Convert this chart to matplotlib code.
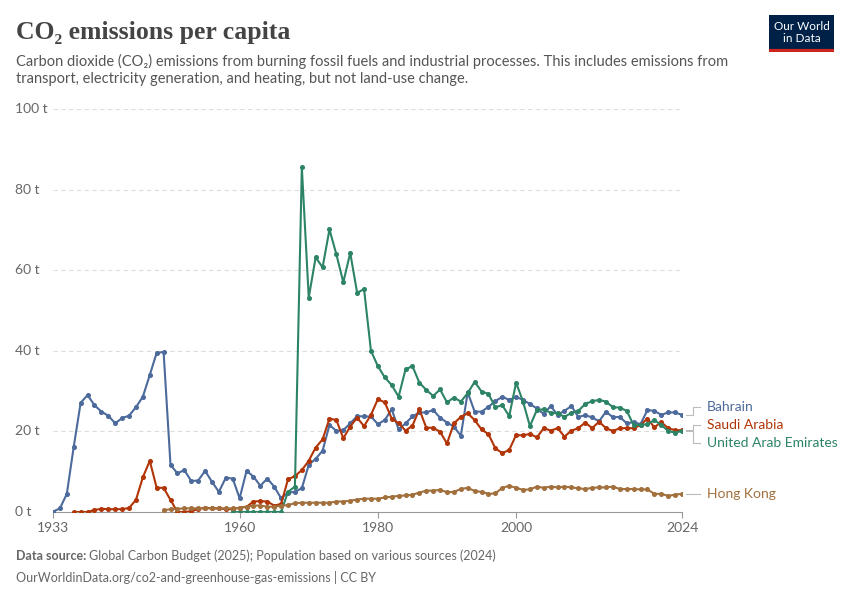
import matplotlib.pyplot as plt
import numpy as np

plt.rcParams['font.family'] = ['Lato', 'DejaVu Sans']

years_bh = np.arange(1933, 2025)
bahrain = [0.1, 0.9, 4.5, 16.2, 27.1, 29, 26.5, 24.9, 23.9, 22, 23.3, 23.9, 26, 28.6, 34, 39.5, 39.7,
           11.7, 9.6, 10.4, 7.7, 7.8, 10.2, 7.5, 5, 8.5, 8.3, 3.4, 10.2, 8.8, 6.5, 8.3, 6.3, 3.4,
           4.8, 5.0, 5.9, 11.7, 13.2, 15.2, 21.6, 20.1, 20.3, 22, 23.8, 23.7, 23.7, 21.8, 22.8, 25.5,
           20.5, 22, 23.7, 24.7, 24.7, 25.3, 23.4, 22.2, 21.2,
           18.9, 29.7, 24.9, 24.9, 26.1, 27.5, 28.6, 27.8, 28.6, 27.8, 26.8, 25.7, 24.3, 26.3, 24.1,
           25.1, 26.3, 23.6, 24, 23.5, 22.5, 24.9, 23.5, 23.6, 22, 22.3, 21.8, 25.3, 25.1, 24.1,
           24.7, 24.7, 24.1]

years_sa = np.arange(1936, 2025)
saudi = [0, 0, 0, 0.5, 0.8, 0.7, 0.7, 0.7, 1, 3, 8.6, 12.7, 6, 6, 3, 0, 0, 0.2, 0.7, 1.1, 0.9,
         0.9, 0.7, 0.7, 1.1, 1.3, 2.6, 2.7, 2.6, 1.6, 2,
         8.1, 8.9, 10.4, 12.7, 16.0, 18, 23.2, 22.8, 18.3, 21.2, 23.4, 21.3, 24.1, 28, 27.2, 23.2,
         22, 20.2, 21.4, 25.5, 20.9, 20.9, 19.9, 17, 22,
         23.6, 24.5, 22.8, 20.5, 19.3, 15.8, 14.6, 15.4, 19.1, 19.0, 19.4, 18.5, 20.8, 20.2, 20.8,
         18.7, 20.2, 20.8, 22.2, 20.8, 22.4, 20.8, 20.1, 20.8, 20.8, 20.8, 21.6, 23.2, 21, 22.3,
         20.8, 20.3, 20.3]

years_ae = np.arange(1959, 2025)
uae = [0, 0, 0, 0, 0, 0, 0, 0, 5.0, 6.3, 85.5,
       53.2, 63.2, 60.7, 70.1, 63.9, 57, 64.3, 54.4, 55.3, 40, 36.2, 33.4, 31.5, 28.6, 35.4, 36.2,
       32.1, 30.3, 28.8, 30.4, 27.2, 28.4,
       27.4, 29.5, 32.3, 29.9, 29.3, 26, 26.5, 23.8, 32.1, 27.4, 21.3, 25.3, 25.5, 24.6, 24.5,
       23.6, 24.6, 25.1, 26.8, 27.5, 27.8, 27.4, 26, 25.9, 25.1, 21.6, 21.6, 21.8, 22.8, 21.6,
       20.1, 19.7, 20.1]

years_hk = np.arange(1949, 2025)
hongkong = [0.4, 0.7, 0.8, 0.9, 0.9, 0.9, 0.9, 0.9, 0.9, 0.9, 0.9, 1.0, 1.3, 1.6, 1.6, 1.3, 1.3, 1.6,
            1.7, 2.2, 2.3, 2.3, 2.3, 2.3, 2.3, 2.6, 2.6, 2.8, 3.1, 3.3, 3.3, 3.3, 3.6, 3.8, 4.0,
            4.1, 4.3, 4.8, 5.3, 5.3, 5.5, 4.9, 5.0,
            5.7, 6.0, 5.2, 5.0, 4.5, 4.6, 6.0, 6.5, 6.0, 5.5, 5.6, 6.3, 6.0, 6.3, 6.1, 6.3, 6.1,
            5.9, 5.7, 6.0, 6.1, 6.1, 6.3, 5.7, 5.7, 5.7, 5.6, 5.6, 4.5, 4.5, 4.0, 4.3, 4.5]

series = [
    ("Bahrain", years_bh, bahrain, "#4c6a9c", 407),
    ("Saudi Arabia", years_sa, saudi, "#b13507", 425),
    ("United Arab Emirates", years_ae, uae, "#2c8465", 443),
    ("Hong Kong", years_hk, hongkong, "#a2703d", 494),
]

W, H = 850, 600
fig = plt.figure(figsize=(8.5, 6), dpi=100)
ax = fig.add_axes([53 / W, 1 - 512 / H, 629 / W, 403 / H])
ax.set_xlim(1933, 2024)
ax.set_ylim(0, 100)

for name, x, y, c, ly in series:
    ax.plot(x, y, color=c, lw=1.5, marker="o", ms=2.6, zorder=3)

for v in [0, 20, 40, 60, 80, 100]:
    if v:
        ax.axhline(v, color="#dddddd", lw=0.8, ls=(0, (4, 3)), zorder=1)
    ax.text(-38 / 629, v, f"{v} t", transform=ax.get_yaxis_transform(),
            ha="left", va="center", fontsize=10, color="#666666")

for s in ["top", "right", "left"]:
    ax.spines[s].set_visible(False)
ax.spines["bottom"].set_color("#999999")
ax.set_yticks([])
ax.set_xticks([1933, 1960, 1980, 2000, 2024])
ax.tick_params(axis="x", colors="#999999", labelcolor="#666666", labelsize=10, length=4)

# end labels with connectors
for name, x, y, c, ly in series:
    yv = (512 - ly) / 403 * 100
    xa = 1 + 4 / 629
    xb = 1 + 18 / 629
    ax.plot([xa, xa + 7 / 629, xa + 7 / 629, xb], [y[-1], y[-1], yv, yv],
            transform=ax.get_yaxis_transform(), color="#bbbbbb", lw=0.8, clip_on=False)
    ax.text(1 + 25 / 629, yv, name, transform=ax.get_yaxis_transform(),
            color=c, fontsize=10, va="center", ha="left")

fig.text(16 / W, 1 - 32 / H, "CO₂ emissions per capita", fontsize=18.5, weight="bold",
         family=["Liberation Serif", "DejaVu Serif"], color="#444444", va="center")
fig.text(16 / W, 1 - 70 / H,
         "Carbon dioxide (CO₂) emissions from burning fossil fuels and industrial processes. This includes emissions from\n"
         "transport, electricity generation, and heating, but not land-use change.",
         fontsize=10.5, color="#555555", va="center", linespacing=1.3)

fig.text(16 / W, 1 - 556 / H, "Data source:", fontsize=9, color="#666666", va="center", weight="bold")
fig.text(89 / W, 1 - 556 / H, "Global Carbon Budget (2025); Population based on various sources (2024)",
         fontsize=9, color="#666666", va="center")
fig.text(16 / W, 1 - 577 / H, "OurWorldinData.org/co2-and-greenhouse-gas-emissions | CC BY",
         fontsize=9, color="#666666", va="center")

# logo
logo = fig.add_axes([769 / W, 1 - 52 / H, 65 / W, 37 / H])
logo.set_facecolor("#002147")
logo.set_xticks([]); logo.set_yticks([])
for s in logo.spines.values():
    s.set_visible(False)
logo.axhline(0.03, color="#ce261e", lw=3)
logo.text(0.5, 0.52, "Our World\nin Data", color="white", fontsize=8.5, ha="center", va="center",
          transform=logo.transAxes, linespacing=1.1)

fig.savefig("out.png", dpi=100)
